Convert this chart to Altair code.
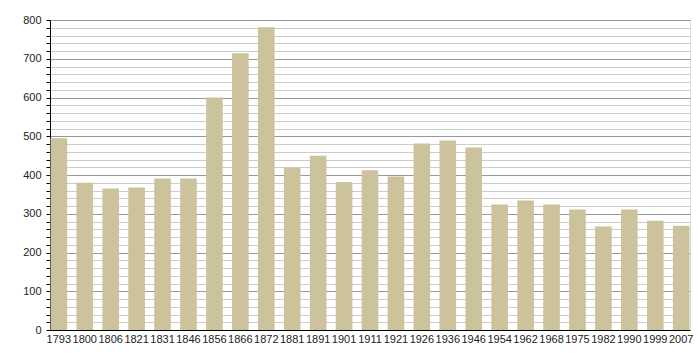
import altair as alt
import pandas as pd

years = ["1793", "1800", "1806", "1821", "1831", "1846", "1856", "1866", "1872",
         "1881", "1891", "1901", "1911", "1921", "1926", "1936", "1946", "1954",
         "1962", "1968", "1975", "1982", "1990", "1999", "2007"]
population = [495, 380, 365, 368, 391, 391, 600, 714, 781,
              419, 450, 382, 412, 396, 481, 489, 471, 324,
              334, 324, 311, 267, 311, 282, 269]
y_ticks = list(range(0, 801, 20))

df = pd.DataFrame({"year": years, "pop": population})

chart = alt.Chart(df).mark_bar(color="#ccc29c").encode(
    x=alt.X("year:N", sort=years, title=None,
            scale=alt.Scale(paddingInner=0.36, paddingOuter=0.02),
            axis=alt.Axis(labelAngle=0, tickSize=0, labelPadding=3,
                          domainColor="#000", labelFont="Liberation Sans",
                          labelFontSize=11, labelColor="#222", grid=False)),
    y=alt.Y("pop:Q", title=None,
            scale=alt.Scale(domain=[0, 800], nice=False, zero=True),
            axis=alt.Axis(values=y_ticks,
                          labelExpr="datum.value % 100 == 0 ? datum.label : ''",
                          tickSize=4, tickColor="#000", labelPadding=5,
                          domainColor="#000", labelFont="Liberation Sans",
                          labelFontSize=11, labelColor="#222",
                          grid=True,
                          gridColor={"condition": {"test": "datum.value % 100 == 0", "value": "#999"}, "value": "#ccc"},
                          gridWidth=1)),
).properties(
    width=640, height=310,
    padding={"left": 50, "top": 20, "right": 10, "bottom": 30},
    autosize=alt.AutoSizeParams(type="none"),
).configure_view(stroke=None).configure(background="white")

chart.save("out.html", embed_options={"renderer": "svg", "actions": False})
